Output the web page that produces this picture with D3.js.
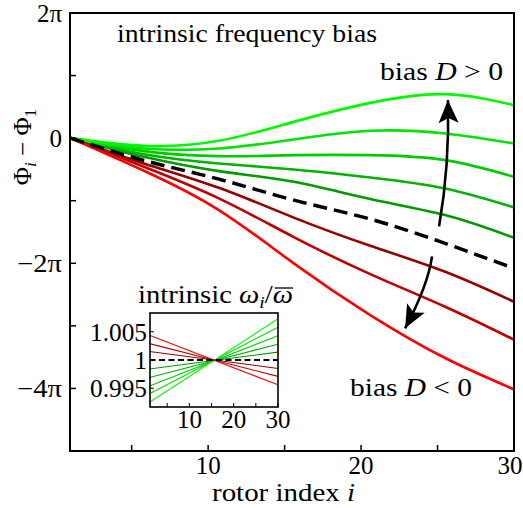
<!DOCTYPE html>
<html lang="en">
<head>
  <meta charset="UTF-8">
  <title>phase lag</title>
  <style>
    *{ margin:0; padding:0; box-sizing:border-box }
    html, body { width:100%; height:100%; background:#fff; overflow:hidden }
    svg { position:absolute; top:0; left:0 }
    text { font-family:"Liberation Serif", serif; fill:#000 }
  </style>
  <script src="https://cdn.jsdelivr.net/npm/d3@7/dist/d3.min.js"></script>
</head>
<body>
  <svg id="chart" width="523" height="508"></svg>
  <script>
    // ---- data (phase values in units of pi) ----
    const rotorIdx = [1, 5.8, 10.7, 15.6, 20.6, 25.5, 30];
    const green1 = [0, -0.299, -0.527, -0.698, -0.974, -1.230, -1.593];
    const green2 = [0, -0.256, -0.404, -0.500, -0.628, -0.804, -1.107];
    const green3 = [0, -0.208, -0.288, -0.272, -0.272, -0.351, -0.618];
    const green4 = [0, -0.165, -0.165, -0.021, 0.117, 0.075, -0.085];
    const green5 = [0, -0.123, -0.043, 0.260, 0.564, 0.703, 0.527];
    const noBias = [0, -0.356, -0.655, -0.990, -1.294, -1.682, -2.081];
    const red1   = [0, -0.404, -0.794, -1.270, -1.720, -2.136, -2.615];
    const red2   = [0, -0.458, -0.963, -1.581, -2.173, -2.695, -3.222];
    const red3   = [0, -0.522, -1.150, -2.001, -2.827, -3.514, -4.014];

    // inset: intrinsic frequency at first and last rotor
    const insetIdx = [1, 30];
    const wGreen1 = [0.9984, 1.0014];
    const wGreen2 = [0.9969, 1.0028];
    const wGreen3 = [0.9954, 1.0043];
    const wGreen4 = [0.9940, 1.0058];
    const wGreen5 = [0.9925, 1.0073];
    const wNone   = [1, 1];
    const wRed1   = [1.0015, 0.9985];
    const wRed2   = [1.0029, 0.9971];
    const wRed3   = [1.0044, 0.9956];

    const xTicks = [5, 10, 15, 20, 25, 30];
    const xTickLabels = [10, 20, 30];
    const yTicks = [-5, -4, -3, -2, -1, 0, 1, 2];
    const yTickLabels = [2, 0, -2, -4];
    const insetXTicks = [5, 10, 15, 20, 25, 30];
    const insetYTicks = [0.995, 1, 1.005];

    const series = [
      {v:green1, w:wGreen1, c:"#009a00"},
      {v:green2, w:wGreen2, c:"#00b400"},
      {v:green3, w:wGreen3, c:"#00cc00"},
      {v:green4, w:wGreen4, c:"#00e400"},
      {v:green5, w:wGreen5, c:"#00f800"},
      {v:red1,   w:wRed1,   c:"#960000"},
      {v:red2,   w:wRed2,   c:"#bf0000"},
      {v:red3,   w:wRed3,   c:"#ff0000"},
      {v:noBias, w:wNone,   c:"#000", dash:true}
    ];

    const svg = d3.select("#chart");
    const FS = 25, SUB = 17;

    // ---- main plot ----
    const x = d3.scaleLinear().domain([1, 30]).range([70.5, 514]);
    const y = d3.scaleLinear().domain([-5, 2]).range([451, 13]);

    const line = d3.line()
      .x((d,i)=>x(rotorIdx[i])).y(d=>y(d))
      .curve(d3.curveNatural);

    const plot = svg.append("g");
    plot.selectAll("path.curve").data(series).join("path")
      .attr("class","curve")
      .attr("fill","none")
      .attr("stroke",d=>d.c)
      .attr("stroke-width",d=>d.dash?3.5:2.6)
      .attr("stroke-dasharray",d=>d.dash?"14,7":null)
      .attr("d",d=>line(d.v));

    // arrows
    const defs = svg.append("defs");
    defs.append("marker").attr("id","head")
      .attr("markerUnits","userSpaceOnUse")
      .attr("viewBox","-25 -11 27 22")
      .attr("refX",0).attr("refY",0)
      .attr("markerWidth",27).attr("markerHeight",22)
      .attr("orient","auto")
      .append("path").attr("d","M0,0 L-23,-10 L-18,0 L-23,10 Z").attr("fill","#000");

    const arrowUp   = [[25.1,-1.41],[25.8,-0.43],[25.68,0.61]];
    const arrowDown = [[24.64,-1.89],[24.38,-2.35],[22.88,-3.04]];
    [arrowUp, arrowDown].forEach(a=>{
      const p = d3.path();
      p.moveTo(x(a[0][0]), y(a[0][1]));
      p.quadraticCurveTo(x(a[1][0]), y(a[1][1]), x(a[2][0]), y(a[2][1]));
      plot.append("path").attr("d",p.toString())
        .attr("fill","none").attr("stroke","#000").attr("stroke-width",2.6)
        .attr("marker-end","url(#head)");
    });

    // frame + ticks
    svg.append("rect").attr("x",70).attr("y",13).attr("width",444).attr("height",438)
      .attr("fill","none").attr("stroke","#000").attr("stroke-width",2);

    const ax = svg.append("g");
    ax.selectAll("line.xt").data(xTicks).join("line").attr("class","xt")
      .attr("x1",d=>x(d)).attr("x2",d=>x(d)).attr("y1",451).attr("y2",445)
      .attr("stroke","#000").attr("stroke-width",1.5);
    ax.selectAll("line.yt").data(yTicks).join("line").attr("class","yt")
      .attr("x1",70).attr("x2",76).attr("y1",d=>y(d)).attr("y2",d=>y(d))
      .attr("stroke","#000").attr("stroke-width",1.5);
    ax.selectAll("text.xl").data(xTickLabels).join("text").attr("class","xl")
      .attr("x",d=>Math.min(x(d), 510)).attr("y",474).attr("text-anchor","middle")
      .attr("font-size",FS).text(d=>d);
    ax.selectAll("text.yl").data(yTickLabels).join("text").attr("class","yl")
      .attr("x",62).attr("y",d=>y(d)+9).attr("text-anchor","end")
      .attr("font-size",FS)
      .attr("textLength",d=>d<0?45:null).attr("lengthAdjust","spacingAndGlyphs")
      .text(d=>d===0?"0":(d<0?"\u2212":"")+(Math.abs(d))+"\u03c0");

    ax.append("text").attr("x",212).attr("y",501)
      .attr("font-size",FS).attr("textLength",143).attr("lengthAdjust","spacingAndGlyphs")
      .call(t=>{ t.append("tspan").text("rotor index ");
                 t.append("tspan").attr("font-style","italic").text("i"); });

    const yl = ax.append("text").attr("transform","translate(31,147) rotate(-90)")
      .attr("text-anchor","middle").attr("font-size",FS);
    yl.append("tspan").text("\u03a6");
    yl.append("tspan").attr("font-size",SUB).attr("font-style","italic").attr("dy",5).text("i");
    yl.append("tspan").attr("dy",-5).text(" \u2212 \u03a6");
    yl.append("tspan").attr("font-size",SUB).attr("dy",5).text("1");

    ax.append("text").attr("x",117).attr("y",42).attr("font-size",FS)
      .attr("textLength",260).attr("lengthAdjust","spacingAndGlyphs")
      .text("intrinsic frequency bias");

    const lblUp = ax.append("text").attr("x",380).attr("y",80).attr("font-size",FS)
      .attr("textLength",123).attr("lengthAdjust","spacingAndGlyphs");
    lblUp.append("tspan").text("bias ");
    lblUp.append("tspan").attr("font-style","italic").text("D");
    lblUp.append("tspan").text(" > 0");
    const lblDn = ax.append("text").attr("x",350).attr("y",396).attr("font-size",FS)
      .attr("textLength",122).attr("lengthAdjust","spacingAndGlyphs");
    lblDn.append("tspan").text("bias ");
    lblDn.append("tspan").attr("font-style","italic").text("D");
    lblDn.append("tspan").text(" < 0");

    // ---- inset ----
    const ix = d3.scaleLinear().domain([1, 30]).range([149.5, 278]);
    const iy = d3.scaleLinear().domain([0.99167, 1.00833]).range([407, 313]);
    const ins = svg.append("g");
    ins.append("rect").attr("x",150).attr("y",313).attr("width",128).attr("height",94)
      .attr("fill","#fff");
    const iline = d3.line().x((d,i)=>ix(insetIdx[i])).y(d=>iy(d));
    ins.selectAll("path.il").data(series).join("path").attr("class","il")
      .attr("fill","none").attr("stroke",d=>d.c)
      .attr("stroke-width",d=>d.dash?1.8:1.1)
      .attr("stroke-dasharray",d=>d.dash?"6,3.5":null)
      .attr("d",d=>iline(d.w));
    ins.append("rect").attr("x",150).attr("y",313).attr("width",128).attr("height",94)
      .attr("fill","none").attr("stroke","#000").attr("stroke-width",1.6);
    ins.selectAll("line.ixt").data(insetXTicks).join("line").attr("class","ixt")
      .attr("x1",d=>ix(d)).attr("x2",d=>ix(d)).attr("y1",407).attr("y2",403)
      .attr("stroke","#000").attr("stroke-width",1);
    ins.selectAll("line.iyt").data(insetYTicks).join("line").attr("class","iyt")
      .attr("x1",150).attr("x2",154).attr("y1",d=>iy(d)).attr("y2",d=>iy(d))
      .attr("stroke","#000").attr("stroke-width",1);
    ins.selectAll("text.ixl").data(xTickLabels).join("text").attr("class","ixl")
      .attr("x",d=>ix(d)).attr("y",428).attr("text-anchor","middle")
      .attr("font-size",FS).text(d=>d);
    ins.selectAll("text.iyl").data(insetYTicks).join("text").attr("class","iyl")
      .attr("x",147).attr("y",d=>iy(d)+9).attr("text-anchor","end")
      .attr("font-size",FS)
      .attr("textLength",d=>d===1?null:57).attr("lengthAdjust","spacingAndGlyphs")
      .text(d=>d===1?"1":d3.format(".3f")(d));

    const it = ins.append("text").attr("x",138).attr("y",303).attr("font-size",FS)
      .attr("textLength",155).attr("lengthAdjust","spacingAndGlyphs");
    it.append("tspan").text("intrinsic ");
    it.append("tspan").attr("font-style","italic").text("\u03c9");
    it.append("tspan").attr("font-size",SUB).attr("font-style","italic").attr("dy",5).text("i");
    it.append("tspan").attr("dy",-5).text("/");
    it.append("tspan").attr("font-style","italic").text("\u03c9");
    // bar over the last omega
    const node = it.node(), n = node.getNumberOfChars();
    const ext = node.getExtentOfChar(n-1);
    ins.append("line")
      .attr("x1",ext.x+2).attr("x2",ext.x+ext.width)
      .attr("y1",288).attr("y2",288)
      .attr("stroke","#000").attr("stroke-width",1.3);
  </script>
</body>
</html>
